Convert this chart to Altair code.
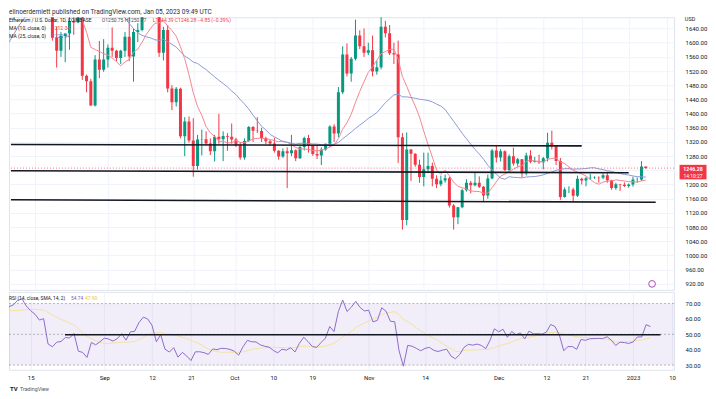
import altair as alt
import pandas as pd
import numpy as np

FONT = "Roboto"
UP, DOWN = "#089981", "#F23645"
GRID = "#F0F3FA"
DARK = "#131722"

# ---------------- data (ETH/USD daily) ----------------
warmup_start = "2022-07-01"   # closes before the visible window (used for MA / RSI)
warmup_close = [1060, 1067, 1075, 1150, 1134, 1187, 1237, 1217, 1220, 1168,
                1097, 1039, 1112, 1192, 1233, 1355, 1340, 1580, 1542, 1522,
                1577, 1536, 1551, 1599, 1440, 1450, 1636, 1725, 1735, 1697,
                1680, 1630, 1634, 1618, 1660, 1735, 1700, 1697, 1776, 1701]

candle_start = "2022-08-10"
o_aug = [1701, 1852, 1881, 1958, 1984, 1935, 1902, 1877, 1834, 1848, 1614, 1577, 1619, 1626, 1661, 1657, 1695, 1507, 1491, 1423, 1553, 1524]
h_aug = [1868, 1942, 1960, 2020, 2030, 2010, 1912, 1960, 1880, 1855, 1645, 1630, 1627, 1678, 1705, 1720, 1710, 1510, 1498, 1565, 1605, 1610]
l_aug = [1664, 1850, 1860, 1955, 1915, 1860, 1855, 1824, 1826, 1606, 1530, 1560, 1545, 1580, 1622, 1655, 1495, 1460, 1422, 1420, 1500, 1518]
c_aug = [1852, 1881, 1958, 1984, 1935, 1902, 1877, 1834, 1848, 1614, 1577, 1619, 1626, 1661, 1657, 1695, 1507, 1491, 1423, 1553, 1524, 1553]

o_sep = [1553, 1586, 1577, 1557, 1577, 1617, 1561, 1630, 1636, 1717, 1774, 1761, 1716, 1572, 1636, 1471, 1432, 1470, 1336, 1378, 1324, 1252, 1327, 1328, 1316, 1294, 1335, 1328, 1337, 1335]
h_sep = [1595, 1643, 1580, 1580, 1630, 1688, 1640, 1655, 1730, 1780, 1785, 1765, 1790, 1645, 1650, 1480, 1475, 1473, 1390, 1392, 1387, 1340, 1355, 1350, 1330, 1340, 1399, 1350, 1345, 1372]
l_sep = [1530, 1560, 1548, 1540, 1560, 1548, 1490, 1602, 1632, 1700, 1735, 1690, 1560, 1550, 1460, 1410, 1420, 1330, 1280, 1318, 1222, 1242, 1282, 1310, 1283, 1265, 1315, 1266, 1295, 1315]
c_sep = [1586, 1577, 1557, 1577, 1617, 1561, 1630, 1636, 1717, 1774, 1761, 1716, 1572, 1636, 1471, 1432, 1470, 1336, 1378, 1324, 1252, 1327, 1328, 1316, 1294, 1335, 1328, 1337, 1335, 1327]

o_oct = [1327, 1311, 1276, 1323, 1362, 1352, 1351, 1331, 1322, 1316, 1295, 1279, 1294, 1288, 1297, 1274, 1306, 1331, 1311, 1286, 1282, 1299, 1315, 1364, 1344, 1460, 1567, 1513, 1555, 1620, 1590]
h_oct = [1332, 1320, 1330, 1365, 1365, 1390, 1360, 1335, 1326, 1332, 1297, 1302, 1305, 1340, 1299, 1310, 1335, 1340, 1312, 1310, 1305, 1315, 1367, 1370, 1475, 1590, 1598, 1560, 1665, 1635, 1640]
l_oct = [1306, 1270, 1270, 1320, 1320, 1345, 1320, 1314, 1310, 1290, 1270, 1275, 1190, 1280, 1266, 1272, 1296, 1290, 1281, 1272, 1255, 1295, 1305, 1320, 1333, 1455, 1505, 1490, 1550, 1582, 1560]
c_oct = [1311, 1276, 1323, 1362, 1352, 1351, 1331, 1322, 1316, 1295, 1279, 1294, 1288, 1297, 1274, 1306, 1331, 1311, 1286, 1282, 1299, 1315, 1364, 1344, 1460, 1567, 1513, 1555, 1620, 1590, 1572]

o_nov = [1572, 1579, 1519, 1531, 1645, 1627, 1570, 1567, 1333, 1100, 1299, 1287, 1256, 1221, 1243, 1252, 1216, 1201, 1211, 1218, 1141, 1108, 1136, 1184, 1205, 1198, 1205, 1194, 1169, 1217]
h_nov = [1600, 1620, 1550, 1680, 1662, 1650, 1600, 1606, 1345, 1347, 1300, 1288, 1270, 1290, 1290, 1262, 1226, 1225, 1228, 1222, 1145, 1137, 1188, 1215, 1210, 1235, 1223, 1196, 1228, 1300]
l_nov = [1565, 1505, 1510, 1525, 1615, 1565, 1540, 1261, 1073, 1085, 1210, 1250, 1205, 1195, 1232, 1195, 1190, 1195, 1205, 1135, 1073, 1088, 1133, 1180, 1175, 1195, 1190, 1150, 1160, 1215]
c_nov = [1579, 1519, 1531, 1645, 1627, 1570, 1567, 1333, 1100, 1299, 1287, 1256, 1221, 1243, 1252, 1216, 1201, 1211, 1218, 1141, 1108, 1136, 1184, 1205, 1198, 1205, 1194, 1169, 1217, 1296]

o_dec = [1296, 1276, 1294, 1241, 1280, 1259, 1271, 1232, 1282, 1264, 1266, 1263, 1274, 1318, 1308, 1266, 1165, 1186, 1186, 1168, 1216, 1211, 1218, 1219, 1220, 1219, 1226, 1212, 1190, 1201, 1199]
h_dec = [1310, 1300, 1296, 1285, 1304, 1275, 1272, 1290, 1297, 1278, 1284, 1278, 1346, 1352, 1310, 1275, 1192, 1195, 1191, 1225, 1219, 1222, 1230, 1223, 1223, 1232, 1236, 1213, 1205, 1201, 1206]
l_dec = [1262, 1265, 1238, 1237, 1253, 1250, 1220, 1226, 1260, 1262, 1258, 1243, 1265, 1299, 1255, 1157, 1163, 1176, 1152, 1165, 1200, 1195, 1213, 1216, 1205, 1215, 1205, 1185, 1185, 1182, 1193]
c_dec = [1276, 1294, 1241, 1280, 1259, 1271, 1232, 1282, 1264, 1266, 1263, 1274, 1318, 1308, 1266, 1165, 1186, 1186, 1168, 1216, 1211, 1218, 1219, 1220, 1219, 1226, 1212, 1190, 1201, 1199, 1196]

o_jan = [1196, 1200, 1214, 1214, 1250.75]
h_jan = [1203, 1222, 1220, 1266, 1250.77]
l_jan = [1191, 1194, 1205, 1210, 1244.39]
c_jan = [1200, 1214, 1214, 1251.13, 1246.28]

x_ticks = ["2022-08-15", "2022-09-01", "2022-09-12", "2022-09-21", "2022-10-01", "2022-10-10", "2022-10-19",
           "2022-11-01", "2022-11-14", "2022-12-01", "2022-12-12", "2022-12-21", "2023-01-01", "2023-01-10"]
x_tick_labels = ["15", "Sep", "12", "21", "Oct", "10", "19", "Nov", "14", "Dec", "12", "21", "2023", "10"]
price_ticks = [920, 960, 1000, 1040, 1080, 1120, 1160, 1200, 1240, 1280, 1320, 1360, 1400, 1440, 1480, 1520, 1560, 1600, 1640]
hidden_price_label = 1240   # covered by the last-price tag
rsi_ticks = [30, 40, 50, 60, 70]

# drawn horizontal levels
level_start = ["2022-08-09 07:00", "2022-08-09 07:00", "2022-08-09 07:00"]
level_end = ["2022-12-21 00:00", "2023-01-01 00:00", "2023-01-07 08:00"]
level_p0 = [1313, 1239, 1157]
level_p1 = [1309, 1233, 1150]
rsi_level_start = ["2022-08-22 22:00"]
rsi_level_end = ["2023-01-07 08:00"]
rsi_level_value = [49.7]

# ---------------- assemble ----------------
opens = o_aug + o_sep + o_oct + o_nov + o_dec + o_jan
highs = h_aug + h_sep + h_oct + h_nov + h_dec + h_jan
lows = l_aug + l_sep + l_oct + l_nov + l_dec + l_jan
closes = c_aug + c_sep + c_oct + c_nov + c_dec + c_jan
assert len(opens) == len(highs) == len(lows) == len(closes), (len(opens), len(highs), len(lows), len(closes))

REF = pd.Timestamp("2022-08-15")
def day(ts):
    return float((pd.Timestamp(ts) - REF) / pd.Timedelta(days=1))

all_dates = list(pd.date_range(warmup_start, periods=len(warmup_close), freq="D")) + \
    list(pd.date_range(candle_start, periods=len(closes), freq="D"))
all_close = pd.Series(warmup_close + closes, dtype=float)
n = len(all_close)
all_d = [day(t) for t in all_dates]

ma10 = all_close.rolling(10).mean()
ma25 = all_close.rolling(25).mean()
delta = all_close.diff().fillna(0.0)
gain = delta.clip(lower=0).values
loss = (-delta.clip(upper=0)).values
ag = np.full(n, np.nan)
al = np.full(n, np.nan)
ag[14] = gain[1:15].mean()
al[14] = loss[1:15].mean()
for i in range(15, n):
    ag[i] = (ag[i - 1] * 13 + gain[i]) / 14
    al[i] = (al[i - 1] * 13 + loss[i]) / 14
rsi = pd.Series(100 - 100 / (1 + ag / al))
rsima = rsi.rolling(14).mean()

lines = pd.DataFrame({"d": all_d, "ma10": ma10, "ma25": ma25, "rsi": rsi, "rsima": rsima})
cd = pd.DataFrame({"d": all_d[len(warmup_close):], "o": opens, "h": highs, "l": lows, "c": closes})
last = cd.iloc[[-1]].reset_index(drop=True)

lv = pd.DataFrame({"d0": [day(t) for t in level_start], "d1": [day(t) for t in level_end],
                   "p0": level_p0, "p1": level_p1})
rlv = pd.DataFrame({"d0": [day(t) for t in rsi_level_start], "d1": [day(t) for t in rsi_level_end],
                    "v": rsi_level_value})
tick_days = [int(round(day(t))) for t in x_ticks]

# ---------------- geometry ----------------
W = 666
H1 = 273
H2 = 78
xs = alt.Scale(domain=[-5.0, 148.46], nice=False, zero=False)
ys = alt.Scale(domain=[902.8, 1671.8], nice=False, zero=False)
yr = alt.Scale(domain=[26.95, 77.6], nice=False, zero=False)

label_expr = "[" + ",".join("'%s'" % s for s in x_tick_labels) + "][indexof([" + \
    ",".join(str(v) for v in tick_days) + "], datum.value)]"
price_label_expr = "datum.value == %d ? '' : format(datum.value, '.2f')" % hidden_price_label

ax_x_price = alt.Axis(values=tick_days, labels=False, ticks=False, domain=False, grid=True,
                      gridColor=GRID, gridWidth=1, title=None)
ax_x_rsi = alt.Axis(values=tick_days, labelExpr=label_expr, labelFont=FONT, labelFontSize=6,
                    labelColor=DARK, labelPadding=5, ticks=False, domain=False, grid=True,
                    gridColor=GRID, gridWidth=1, title=None, labelFlush=False, labelOverlap=False)
ax_y_price = alt.Axis(orient="right", values=price_ticks, labelExpr=price_label_expr, labelFont=FONT,
                      labelFontSize=6, labelColor=DARK, labelPadding=11, labelAlign="left", ticks=False,
                      domain=False, grid=True, gridColor=GRID, gridWidth=1, title=None,
                      labelOverlap=False, labelFlush=False)
ax_y_rsi = alt.Axis(orient="right", values=rsi_ticks, format=".2f", labelFont=FONT, labelFontSize=6,
                    labelColor=DARK, labelPadding=11, labelAlign="left", ticks=False, domain=False,
                    grid=False, title=None, labelOverlap=False, labelFlush=False)

def Xp(f):
    return alt.X(f + ":Q", scale=xs, axis=ax_x_price)
def Xr(f):
    return alt.X(f + ":Q", scale=xs, axis=ax_x_rsi)
def Yp(f):
    return alt.Y(f + ":Q", scale=ys, axis=ax_y_price)
def Yr(f):
    return alt.Y(f + ":Q", scale=yr, axis=ax_y_rsi)

def txt(s, x, y, color, size=5.0, weight="normal", align="left", baseline="middle"):
    return alt.Chart(pd.DataFrame({"t": [s]})).mark_text(
        align=align, baseline=baseline, fontSize=size, font=FONT, color=color, fontWeight=weight
    ).encode(x=alt.value(x), y=alt.value(y), text="t:N")

updown = alt.condition("datum.c >= datum.o", alt.value(UP), alt.value(DOWN))

# ---------------- price pane ----------------
wicks = alt.Chart(cd).mark_rule(strokeWidth=1, clip=True).encode(
    x=Xp("d"), y=Yp("l"), y2=alt.Y2("h"), color=updown)
bodies = alt.Chart(cd).mark_bar(size=3, clip=True).encode(
    x=Xp("d"), y=Yp("o"), y2=alt.Y2("c"), color=updown)
ma10_line = alt.Chart(lines.dropna(subset=["ma10"])).mark_line(
    color="#F4878F", strokeWidth=1, clip=True).encode(x=Xp("d"), y=Yp("ma10"))
ma25_line = alt.Chart(lines.dropna(subset=["ma25"])).mark_line(
    color="#8C9AD8", strokeWidth=1, clip=True).encode(x=Xp("d"), y=Yp("ma25"))
levels = alt.Chart(lv).mark_rule(color=DARK, strokeWidth=1.6, clip=True).encode(
    x=Xp("d0"), x2=alt.X2("d1"), y=Yp("p0"), y2=alt.Y2("p1"))
price_line = alt.Chart(last).mark_rule(color=DOWN, strokeDash=[1, 2], strokeWidth=1, opacity=0.7).encode(
    y=Yp("c"))
tag = alt.Chart(last).mark_point(
    shape="M-1,-0.54L1,-0.54L1,0.54L-1,0.54Z", size=729, filled=True, color=DOWN, opacity=1, yOffset=4
).encode(x=alt.value(685), y=Yp("c"))
tag_price = alt.Chart(last).mark_text(
    font=FONT, fontSize=5.2, color="white", fontWeight="bold", align="center", baseline="middle", yOffset=0.5
).encode(x=alt.value(685), y=Yp("c"), text=alt.Text("c:Q", format=".2f"))
tag_timer = alt.Chart(last.assign(t="14:10:27")).mark_text(
    font=FONT, fontSize=5.0, color="white", align="center", baseline="middle", yOffset=7.8
).encode(x=alt.value(685), y=Yp("c"), text="t:N")
event_icon = alt.Chart(last).mark_point(
    shape="circle", size=45, stroke="#AB47BC", fill="white", filled=False, strokeWidth=1, opacity=1
).encode(x=alt.value(644), y=alt.value(267))

header = txt("elinoerdemlett published on TradingView.com, Jan 05, 2023 09:49 UTC", 0, -8, "#2A2E39",
             size=6.5, baseline="top")
leg1a = txt("Ethereum / U.S. Dollar, 1D, COINBASE", 0, 2.5, DARK)
leg1b = txt("O1250.75 H1250.77", 93, 2.5, "#4A4E59")
leg1c = txt("L1244.39 C1246.28 \u22124.85 (\u22120.39%)", 144, 2.5, DOWN)
leg2a = txt("MA (10, close, 0)", 0, 10.5, DARK)
leg2b = txt("%.2f" % ma10.iloc[-1], 43, 10.5, "#F23645")
leg3a = txt("MA (25, close, 0)", 0, 18.5, DARK)
leg3b = txt("%.2f" % ma25.iloc[-1], 43, 18.5, "#5C6BC0")
usd = txt("USD", 682, 1.5, DARK, size=5.5, align="center")

price = alt.layer(
    wicks, bodies, ma10_line, ma25_line, levels, price_line,
    tag, tag_price, tag_timer, event_icon,
    header, leg1a, leg1b, leg1c, leg2a, leg2b, leg3a, leg3b, usd
).properties(width=W, height=H1)

# ---------------- RSI pane ----------------
band = alt.Chart(pd.DataFrame({"lo": [30], "hi": [70]})).mark_rect(color="#7E57C2", opacity=0.1).encode(
    x=alt.value(0), x2=alt.value(W), y=Yr("lo"), y2=alt.Y2("hi"))
dashes = alt.Chart(pd.DataFrame({"v": [70, 50, 30]})).mark_rule(
    color="#9598A1", strokeDash=[2, 2], strokeWidth=1, opacity=0.7).encode(y=Yr("v"))
rsima_line = alt.Chart(lines.dropna(subset=["rsima"])).mark_line(
    color="#F3E2A0", strokeWidth=1, clip=True).encode(x=Xr("d"), y=Yr("rsima"))
rsi_line = alt.Chart(lines.dropna(subset=["rsi"])).mark_line(
    color="#8E6BCB", strokeWidth=1, clip=True).encode(x=Xr("d"), y=Yr("rsi"))
rsi_level = alt.Chart(rlv).mark_rule(color=DARK, strokeWidth=1.6, clip=True).encode(
    x=Xr("d0"), x2=alt.X2("d1"), y=Yr("v"))
rleg_a = txt("RSI (14, close, SMA, 14, 2)", 0, 7, DARK, size=4.9)
rleg_b = txt("54.74", 62, 7, "#7E57C2", size=4.9)
rleg_c = txt("47.90", 76, 7, "#E8C44A", size=4.9)
logo_a = txt("TV", 1, H2 + 19, DARK, size=6, weight="bold")
logo_b = txt("TradingView", 11, H2 + 19, "#50535E", size=5.3)

rsi_chart = alt.layer(
    band, dashes, rsima_line, rsi_line, rsi_level, rleg_a, rleg_b, rleg_c, logo_a, logo_b
).properties(width=W, height=H2)

chart = alt.vconcat(price, rsi_chart, spacing=0).properties(
    padding={"left": 0, "top": 0, "right": 0, "bottom": 0}, background="white"
).configure_view(stroke="#E0E3EB", strokeWidth=1)

chart.save("out.html", embed_options={"renderer": "svg", "actions": False})
